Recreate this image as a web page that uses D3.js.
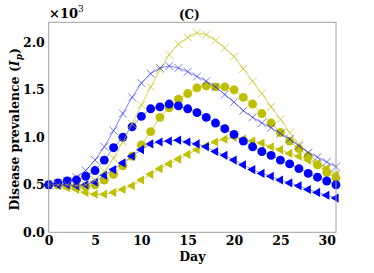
<!DOCTYPE html>
<meta charset="utf-8">
<style>
body { margin: 0; background: white; }
text { font-family: "DejaVu Serif", serif; font-weight: bold; }
</style>
<body>
<svg width="374" height="273" id="chart"></svg>
<script src="https://cdn.jsdelivr.net/npm/d3@7"></script>
<script>

var days = d3.range(0, 32);
var xTicks = [0, 5, 10, 15, 20, 25, 30];
var yTicks = [0, 0.5, 1.0, 1.5, 2.0];

// values in units of 10^3
var blueCross = [0.50, 0.52, 0.54, 0.58, 0.65, 0.76, 0.90, 1.07, 1.25, 1.42, 1.57, 1.67, 1.73, 1.75, 1.73, 1.69,
                 1.64, 1.59, 1.53, 1.45, 1.37, 1.28, 1.21, 1.15, 1.10, 1.04, 0.98, 0.91, 0.84, 0.79, 0.74, 0.69];
var blueCircle = [0.50, 0.52, 0.54, 0.55, 0.59, 0.65, 0.76, 0.89, 1.00, 1.11, 1.22, 1.30, 1.32, 1.35, 1.33, 1.30,
                  1.26, 1.21, 1.15, 1.09, 1.03, 0.96, 0.90, 0.85, 0.81, 0.76, 0.72, 0.67, 0.62, 0.58, 0.54, 0.50];
var blueTri = [0.50, 0.50, 0.50, 0.49, 0.50, 0.53, 0.60, 0.66, 0.73, 0.80, 0.87, 0.93, 0.95, 0.96, 0.97, 0.95,
               0.93, 0.90, 0.85, 0.81, 0.76, 0.71, 0.66, 0.62, 0.59, 0.55, 0.52, 0.49, 0.45, 0.42, 0.39, 0.36];
var yellowCross = [0.50, 0.50, 0.50, 0.49, 0.50, 0.55, 0.64, 0.78, 0.95, 1.14, 1.34, 1.53, 1.71, 1.87, 1.98, 2.05,
                   2.10, 2.08, 2.02, 1.94, 1.85, 1.72, 1.59, 1.46, 1.32, 1.19, 1.05, 0.93, 0.83, 0.74, 0.67, 0.61];
var yellowCircle = [0.50, 0.50, 0.49, 0.48, 0.48, 0.50, 0.55, 0.61, 0.70, 0.80, 0.92, 1.06, 1.21, 1.31, 1.40, 1.46,
                    1.52, 1.54, 1.53, 1.53, 1.50, 1.42, 1.35, 1.25, 1.15, 1.05, 0.96, 0.88, 0.80, 0.71, 0.63, 0.57];
var yellowTri = [0.50, 0.49, 0.47, 0.45, 0.42, 0.40, 0.40, 0.42, 0.45, 0.49, 0.55, 0.61, 0.67, 0.72, 0.77, 0.82,
                 0.87, 0.91, 0.95, 0.98, 1.00, 0.98, 0.96, 0.94, 0.90, 0.87, 0.83, 0.80, 0.76, 0.72, 0.67, 0.60];

var svg = d3.select("#chart");
var margin = {left: 48.7, right: 38, top: 22.3, bottom: 40.7};
var w = 374 - margin.left - margin.right,
    h = 273 - margin.top - margin.bottom;

var x = d3.scaleLinear().domain([0, 31]).range([0, w]);
var y = d3.scaleLinear().domain([0, 2.21]).range([h, 0]);

var g = svg.append("g").attr("transform", "translate(" + margin.left + "," + margin.top + ")");

var blue = "#0000ff", olive = "#bfbf00";

var series = [
  {vals: yellowTri, color: olive, marker: "tri", lineOp: 0.7},
  {vals: yellowCircle, color: olive, marker: "circle", lineOp: 0.7},
  {vals: blueTri, color: blue, marker: "tri", lineOp: 0.45},
  {vals: blueCircle, color: blue, marker: "circle", lineOp: 0.45},
  {vals: yellowCross, color: olive, marker: "cross", lineOp: 0.65},
  {vals: blueCross, color: blue, marker: "cross", lineOp: 0.5}
];

var line = d3.line()
    .x(function(d, i) { return x(days[i]); })
    .y(function(d) { return y(d); });

var circle = d3.symbol().type(d3.symbolCircle).size(62);
var tri = d3.symbol().type(d3.symbolTriangle).size(36);

series.forEach(function(s) {
  var sg = g.append("g");
  sg.append("path")
    .datum(s.vals)
    .attr("fill", "none")
    .attr("stroke", s.color)
    .attr("stroke-opacity", s.lineOp)
    .attr("stroke-width", 1)
    .attr("d", line);

  var pts = sg.selectAll(".pt")
    .data(s.vals)
    .enter().append("path")
      .attr("class", "pt")
      .attr("transform", function(d, i) {
        var t = "translate(" + x(days[i]) + "," + y(d) + ")";
        return s.marker == "tri" ? t + " rotate(-90)" : t;
      });

  if (s.marker == "cross") {
    pts.attr("d", "M-4,-4L4,4M-4,4L4,-4")
      .attr("fill", "none")
      .attr("stroke", s.color)
      .attr("stroke-opacity", s.lineOp)
      .attr("stroke-width", 1);
  } else {
    pts.attr("d", s.marker == "tri" ? tri() : circle())
      .attr("fill", s.color);
  }
});

// frame
g.append("rect")
  .attr("width", w)
  .attr("height", h)
  .attr("fill", "none")
  .attr("stroke", "#a0a0a0")
  .attr("stroke-width", 1);

var xAxis = g.append("g")
  .attr("transform", "translate(0," + h + ")")
  .call(d3.axisBottom(x).tickValues(xTicks).tickSize(0).tickPadding(4).tickFormat(d3.format("d")));
xAxis.select(".domain").remove();
xAxis.selectAll("text").attr("font-size", 12.5).attr("fill", "#000")
  .attr("font-family", "DejaVu Serif").attr("font-weight", "bold");

var yAxis = g.append("g")
  .call(d3.axisLeft(y).tickValues(yTicks).tickSize(0).tickPadding(4).tickFormat(d3.format(".1f")));
yAxis.select(".domain").remove();
yAxis.selectAll("text").attr("font-size", 12.5).attr("fill", "#000")
  .attr("font-family", "DejaVu Serif").attr("font-weight", "bold");

svg.append("text")
  .attr("x", 49).attr("y", 18)
  .attr("font-size", 13)
  .text("\u00d710")
  .append("tspan").attr("dy", -6).attr("font-size", 9).attr("font-weight", "normal").text("3");

svg.append("text")
  .attr("x", margin.left + w / 2 - 3).attr("y", 19)
  .attr("text-anchor", "middle")
  .attr("font-size", 12)
  .text("(C)");

svg.append("text")
  .attr("x", margin.left + w / 2).attr("y", 261)
  .attr("text-anchor", "middle")
  .attr("font-size", 12.5)
  .text("Day");

var yl = svg.append("text")
  .attr("transform", "translate(19," + (margin.top + h / 2 + 2) + ") rotate(-90)")
  .attr("text-anchor", "middle")
  .attr("font-size", 12.5);
yl.append("tspan").text("Disease prevalence (");
yl.append("tspan").attr("font-style", "italic").text("I");
yl.append("tspan").attr("font-style", "italic").attr("font-size", 9).attr("dy", 3).text("p");
yl.append("tspan").attr("dy", -3).text(")");

</script>
</body>
